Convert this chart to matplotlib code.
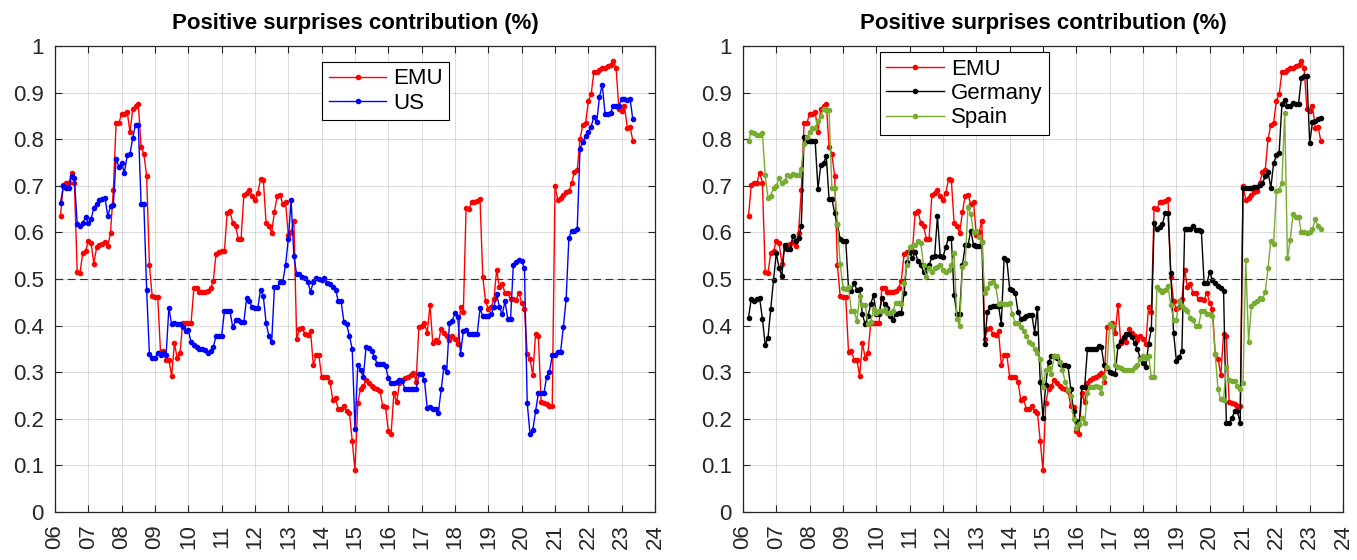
import numpy as np
import pandas as pd
import matplotlib
matplotlib.use("Agg")
from matplotlib import pyplot as plt
from matplotlib.ticker import FormatStrFormatter

plt.rcParams['font.family'] = ['Liberation Sans', 'DejaVu Sans']

# monthly observations, Mar 2006 .. May 2023
months = pd.date_range("2006-03-01", "2023-05-01", freq="MS")

emu = [
    0.635, 0.702, 0.707, 0.706, 0.728, 0.707, 0.515, 0.512, 0.556, 0.559,
    0.582, 0.577, 0.533, 0.568, 0.572, 0.575, 0.579, 0.570, 0.599, 0.690, 0.834, 0.834,
    0.855, 0.855, 0.859, 0.815, 0.864, 0.871, 0.876, 0.783, 0.769, 0.721, 0.530, 0.463,
    0.461, 0.461, 0.343, 0.345, 0.327, 0.327, 0.292, 0.362, 0.331, 0.341, 0.406, 0.406,
    0.406, 0.406, 0.480, 0.480, 0.473, 0.473, 0.473, 0.475, 0.480, 0.496, 0.554, 0.558,
    0.561, 0.560, 0.642, 0.646, 0.620, 0.614, 0.586, 0.586, 0.681, 0.685, 0.690, 0.679,
    0.669, 0.685, 0.714, 0.713, 0.620, 0.613, 0.599, 0.644, 0.679, 0.681, 0.660, 0.665,
    0.594, 0.600, 0.625, 0.371, 0.392, 0.394, 0.382, 0.380, 0.389, 0.315, 0.336, 0.336,
    0.290, 0.290, 0.290, 0.280, 0.241, 0.244, 0.220, 0.220, 0.228, 0.216, 0.213, 0.153,
    0.090, 0.234, 0.265, 0.270, 0.283, 0.276, 0.270, 0.267, 0.264, 0.260, 0.227, 0.225,
    0.174, 0.167, 0.255, 0.235, 0.276, 0.283, 0.287, 0.290, 0.294, 0.299, 0.280, 0.397,
    0.400, 0.405, 0.385, 0.444, 0.362, 0.370, 0.365, 0.392, 0.385, 0.378, 0.370, 0.378,
    0.371, 0.360, 0.440, 0.430, 0.653, 0.650, 0.665, 0.665, 0.668, 0.672, 0.505, 0.452,
    0.435, 0.440, 0.456, 0.520, 0.482, 0.489, 0.470, 0.470, 0.456, 0.456, 0.455, 0.471,
    0.449, 0.435, 0.340, 0.329, 0.294, 0.382, 0.378, 0.237, 0.234, 0.232, 0.227, 0.228,
    0.699, 0.670, 0.674, 0.681, 0.686, 0.688, 0.706, 0.730, 0.734, 0.800, 0.831, 0.834,
    0.882, 0.896, 0.945, 0.945, 0.949, 0.952, 0.952, 0.956, 0.959, 0.968, 0.952, 0.864,
    0.860, 0.871, 0.825, 0.827, 0.797,
]

us = [
    0.663, 0.699, 0.695, 0.695, 0.720, 0.716, 0.618, 0.614, 0.621, 0.632,
    0.620, 0.628, 0.653, 0.660, 0.669, 0.672, 0.674, 0.635, 0.656, 0.658, 0.758, 0.741,
    0.749, 0.728, 0.765, 0.768, 0.803, 0.831, 0.831, 0.660, 0.660, 0.477, 0.338, 0.331,
    0.331, 0.341, 0.336, 0.341, 0.336, 0.437, 0.403, 0.406, 0.403, 0.403, 0.396, 0.389,
    0.390, 0.364, 0.359, 0.355, 0.350, 0.350, 0.348, 0.341, 0.345, 0.354, 0.378, 0.378,
    0.378, 0.431, 0.431, 0.431, 0.396, 0.411, 0.413, 0.408, 0.408, 0.459, 0.452, 0.439,
    0.438, 0.438, 0.477, 0.463, 0.406, 0.378, 0.364, 0.482, 0.482, 0.494, 0.494, 0.530,
    0.585, 0.670, 0.549, 0.510, 0.510, 0.505, 0.503, 0.493, 0.473, 0.493, 0.503, 0.500,
    0.498, 0.503, 0.491, 0.489, 0.482, 0.477, 0.452, 0.452, 0.408, 0.403, 0.378, 0.350,
    0.179, 0.315, 0.304, 0.290, 0.354, 0.352, 0.346, 0.332, 0.318, 0.318, 0.318, 0.313,
    0.287, 0.276, 0.276, 0.280, 0.284, 0.282, 0.263, 0.263, 0.263, 0.263, 0.263, 0.296,
    0.297, 0.283, 0.223, 0.225, 0.220, 0.222, 0.213, 0.263, 0.311, 0.301, 0.405, 0.410,
    0.427, 0.418, 0.339, 0.389, 0.390, 0.383, 0.382, 0.382, 0.382, 0.437, 0.420, 0.420,
    0.420, 0.424, 0.439, 0.468, 0.439, 0.424, 0.452, 0.415, 0.415, 0.530, 0.537, 0.540,
    0.538, 0.523, 0.234, 0.167, 0.176, 0.216, 0.255, 0.255, 0.255, 0.290, 0.301, 0.336,
    0.336, 0.343, 0.343, 0.397, 0.456, 0.589, 0.604, 0.604, 0.608, 0.780, 0.794, 0.806,
    0.815, 0.827, 0.848, 0.836, 0.890, 0.917, 0.855, 0.855, 0.857, 0.871, 0.871, 0.871,
    0.887, 0.887, 0.885, 0.887, 0.843,
]

germany = [
    0.417, 0.458, 0.452, 0.456, 0.459, 0.415, 0.359, 0.373, 0.435, 0.498,
    0.556, 0.523, 0.507, 0.573, 0.565, 0.565, 0.593, 0.582, 0.589, 0.613, 0.804, 0.797,
    0.796, 0.796, 0.796, 0.693, 0.744, 0.749, 0.763, 0.672, 0.672, 0.642, 0.618, 0.585,
    0.582, 0.582, 0.480, 0.475, 0.491, 0.477, 0.479, 0.424, 0.403, 0.420, 0.446, 0.466,
    0.424, 0.424, 0.459, 0.446, 0.438, 0.420, 0.413, 0.424, 0.427, 0.427, 0.470, 0.537,
    0.558, 0.544, 0.558, 0.538, 0.530, 0.515, 0.526, 0.530, 0.547, 0.549, 0.635, 0.549,
    0.547, 0.568, 0.589, 0.589, 0.466, 0.425, 0.425, 0.530, 0.572, 0.572, 0.604, 0.573,
    0.570, 0.570, 0.579, 0.361, 0.430, 0.439, 0.442, 0.442, 0.442, 0.403, 0.545, 0.540,
    0.479, 0.477, 0.470, 0.430, 0.415, 0.416, 0.420, 0.422, 0.422, 0.385, 0.438, 0.280,
    0.202, 0.273, 0.322, 0.334, 0.334, 0.330, 0.318, 0.315, 0.315, 0.313, 0.265, 0.216,
    0.195, 0.188, 0.269, 0.269, 0.350, 0.350, 0.350, 0.350, 0.357, 0.354, 0.315, 0.308,
    0.300, 0.299, 0.296, 0.357, 0.368, 0.375, 0.383, 0.383, 0.375, 0.362, 0.350, 0.330,
    0.320, 0.311, 0.361, 0.392, 0.621, 0.607, 0.611, 0.618, 0.642, 0.642, 0.512, 0.385,
    0.325, 0.332, 0.346, 0.607, 0.608, 0.608, 0.613, 0.606, 0.606, 0.604, 0.491, 0.491,
    0.515, 0.498, 0.491, 0.484, 0.480, 0.475, 0.190, 0.190, 0.202, 0.216, 0.216, 0.190,
    0.695, 0.695, 0.695, 0.695, 0.697, 0.697, 0.702, 0.706, 0.720, 0.730, 0.695, 0.748,
    0.765, 0.770, 0.875, 0.885, 0.871, 0.871, 0.878, 0.875, 0.876, 0.932, 0.935, 0.935,
    0.792, 0.836, 0.839, 0.843, 0.845,
]

spain = [
    0.797, 0.815, 0.813, 0.810, 0.810, 0.813, 0.723, 0.674, 0.679, 0.695,
    0.699, 0.716, 0.706, 0.711, 0.723, 0.720, 0.725, 0.723, 0.723, 0.737, 0.789, 0.804,
    0.815, 0.825, 0.825, 0.839, 0.850, 0.864, 0.862, 0.862, 0.695, 0.695, 0.618, 0.533,
    0.480, 0.479, 0.482, 0.432, 0.431, 0.410, 0.463, 0.445, 0.445, 0.404, 0.408, 0.435,
    0.427, 0.431, 0.432, 0.435, 0.427, 0.427, 0.432, 0.449, 0.449, 0.446, 0.491, 0.530,
    0.568, 0.570, 0.573, 0.582, 0.577, 0.530, 0.505, 0.523, 0.515, 0.523, 0.526, 0.531,
    0.520, 0.515, 0.520, 0.530, 0.555, 0.415, 0.400, 0.525, 0.535, 0.655, 0.640, 0.600,
    0.603, 0.590, 0.579, 0.470, 0.480, 0.491, 0.494, 0.484, 0.446, 0.449, 0.446, 0.446,
    0.449, 0.425, 0.406, 0.406, 0.397, 0.389, 0.378, 0.364, 0.361, 0.350, 0.341, 0.329,
    0.269, 0.304, 0.308, 0.297, 0.334, 0.334, 0.322, 0.304, 0.280, 0.262, 0.248, 0.200,
    0.181, 0.188, 0.202, 0.192, 0.255, 0.269, 0.269, 0.270, 0.269, 0.256, 0.290, 0.311,
    0.403, 0.399, 0.315, 0.311, 0.310, 0.304, 0.304, 0.304, 0.305, 0.311, 0.315, 0.329,
    0.334, 0.331, 0.334, 0.290, 0.290, 0.482, 0.477, 0.473, 0.477, 0.484, 0.444, 0.413,
    0.411, 0.452, 0.442, 0.435, 0.431, 0.417, 0.411, 0.399, 0.399, 0.431, 0.431, 0.425,
    0.424, 0.420, 0.338, 0.263, 0.242, 0.241, 0.311, 0.283, 0.282, 0.282, 0.270, 0.265,
    0.277, 0.540, 0.364, 0.442, 0.449, 0.452, 0.459, 0.456, 0.473, 0.523, 0.582, 0.575,
    0.688, 0.692, 0.706, 0.857, 0.544, 0.584, 0.639, 0.634, 0.634, 0.600, 0.600, 0.599,
    0.600, 0.607, 0.628, 0.614, 0.607,
]

year_ticks = list(range(2006, 2025))
year_labels = ["%02d" % (y % 100) for y in year_ticks]

t = months.year + (months.month - 1) / 12.0

fig = plt.figure(figsize=(13.57, 5.6), dpi=100)
ax1 = fig.add_axes([0.0405, 0.0857, 0.4422, 0.8322])
ax2 = fig.add_axes([0.5475, 0.0857, 0.4422, 0.8322])

green = (0.466, 0.674, 0.188)


def style(ax):
    ax.set_xlim(2006, 2024)
    ax.set_ylim(0, 1)
    ax.set_xticks(year_ticks)
    ax.set_xticklabels(year_labels, rotation=90)
    ax.set_yticks(np.arange(0, 1.01, 0.1))
    ax.yaxis.set_major_formatter(FormatStrFormatter('%g'))
    ax.grid(True, color=(0.15, 0.15, 0.15), alpha=0.15, linewidth=0.8)
    ax.set_axisbelow(True)
    ax.tick_params(direction='in', length=5, width=0.8, top=True, right=True,
                   labelsize=16, colors=(0.15, 0.15, 0.15))
    ax.tick_params(axis='x', pad=9)
    ax.tick_params(axis='y', pad=8)
    for s in ax.spines.values():
        s.set_color((0.15, 0.15, 0.15))
        s.set_linewidth(0.9)
    ax.axhline(0.5, color=(0.2, 0.2, 0.2), linestyle=(0, (7, 4)), linewidth=0.8)
    ax.set_title('Positive surprises contribution (%)', fontsize=16,
                 fontweight='bold', pad=12)


kw = dict(marker='.', markersize=6, linewidth=1.0)

ax1.plot(t, emu, color='red', label='EMU', **kw)
ax1.plot(t, us, color='blue', label='US', **kw)
style(ax1)
leg1 = ax1.legend(loc='upper left', bbox_to_anchor=(0.445, 0.966), fontsize=16,
                  frameon=True, fancybox=False, edgecolor='black', framealpha=1,
                  handlelength=2.6, borderpad=0.3, labelspacing=0.15,
                  handletextpad=0.3, borderaxespad=0)
leg1.get_frame().set_linewidth(0.8)

ax2.plot(t, emu, color='red', label='EMU', **kw)
ax2.plot(t, germany, color='black', label='Germany', **kw)
ax2.plot(t, spain, color=green, label='Spain', **kw)
style(ax2)
leg2 = ax2.legend(loc='upper left', bbox_to_anchor=(0.228, 0.987), fontsize=16,
                  frameon=True, fancybox=False, edgecolor='black', framealpha=1,
                  handlelength=2.6, borderpad=0.3, labelspacing=0.15,
                  handletextpad=0.3, borderaxespad=0)
leg2.get_frame().set_linewidth(0.8)

fig.savefig('out.png', dpi=100)
